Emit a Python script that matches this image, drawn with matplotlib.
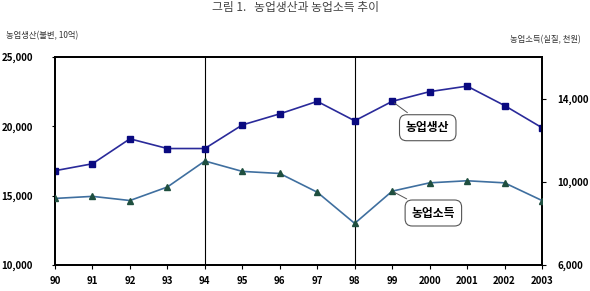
import numpy as np
import matplotlib
matplotlib.use("Agg")
import matplotlib.pyplot as plt

plt.rcParams["font.family"] = ["Noto Sans CJK KR", "DejaVu Sans"]

# data
years = ["90", "91", "92", "93", "94", "95", "96", "97", "98", "99",
         "2000", "2001", "2002", "2003"]
production = [16800, 17300, 19100, 18400, 18400, 20100, 20900, 21800,
              20400, 21800, 22500, 22900, 21500, 19900]
income = [9200, 9300, 9100, 9750, 11000, 10500, 10400, 9500,
          8000, 9550, 9950, 10050, 9950, 9100]
left_ticks = [10000, 15000, 20000, 25000]
right_ticks = [6000, 10000, 14000]

x = np.arange(len(years))

fig = plt.figure(figsize=(5.9, 2.91), dpi=100)
ax = fig.add_axes([55 / 590, 1 - 265 / 291, 487 / 590, 208 / 291])
ax2 = ax.twinx()

ax.plot(x, production, color="#2a2a9a", lw=1.2, marker="s", ms=4.5,
        mfc="#0a0a80", mec="#0a0a80", zorder=3)
ax2.plot(x, income, color="#3f6f9f", lw=1.2, marker="^", ms=5,
         mfc="#1f4f3f", mec="#1f4f3f", zorder=3)

ax.set_xlim(0, len(years) - 1)
ax.set_ylim(10000, 25000)
ax2.set_ylim(6000, 16000)

ax.set_xticks(x)
ax.set_xticklabels(years)
ax.set_yticks(left_ticks)
ax.set_yticklabels([f"{v:,}" for v in left_ticks])
ax2.set_yticks(right_ticks)
ax2.set_yticklabels([f"{v:,}" for v in right_ticks])

for a in (ax, ax2):
    for s in a.spines.values():
        s.set_linewidth(1.3)
        s.set_color("black")
ax.tick_params(axis="x", length=3, pad=5, labelsize=7)
ax.tick_params(axis="y", length=2, pad=14, labelsize=7)
ax2.tick_params(axis="y", length=3, pad=8, labelsize=7)
for lab in ax.get_xticklabels() + ax.get_yticklabels() + ax2.get_yticklabels():
    lab.set_fontweight("bold")

# vertical separators at 94 and 98
ax.axvline(4, color="black", lw=0.8)
ax.axvline(8, color="black", lw=0.8)

box = dict(boxstyle="round,pad=0.55,rounding_size=0.6", fc="white",
           ec="#555555", lw=0.8)
ax.annotate("농업생산", xy=(9, production[9]), xytext=(9.95, 19900),
            ha="center", va="center", fontsize=8.5, fontweight="bold",
            bbox=box, arrowprops=dict(arrowstyle="-", color="#555555", lw=0.7))
ax2.annotate("농업소득", xy=(9, income[9]), xytext=(10.1, 8500),
             ha="center", va="center", fontsize=8.5, fontweight="bold",
             bbox=box, arrowprops=dict(arrowstyle="-", color="#555555", lw=0.7))

fig.text(0.5, 0.997, "그림 1.   농업생산과 농업소득 추이", ha="center",
         va="top", fontsize=8.5, color="#444444")
fig.text(0.01, 1 - 36 / 291, "농업생산(불변, 10억)", ha="left", va="center",
         fontsize=6, color="#333333")
fig.text(0.985, 1 - 40 / 291, "농업소득(실질, 천원)", ha="right", va="center",
         fontsize=6, color="#333333")

fig.savefig("out.png", dpi=100)
